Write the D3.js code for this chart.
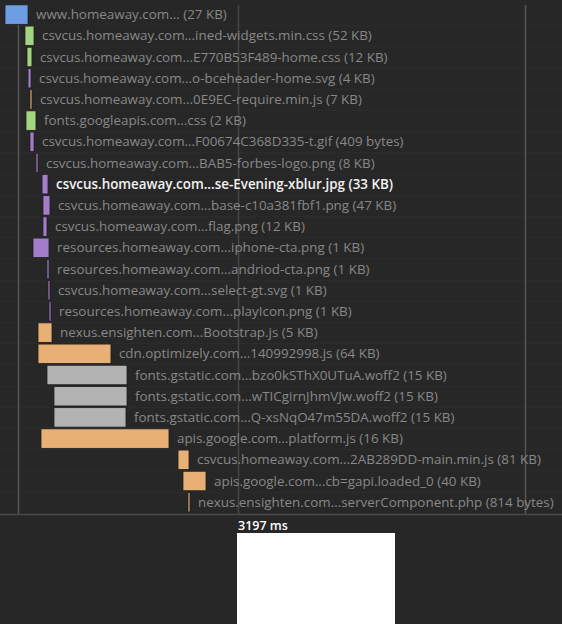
<!DOCTYPE html>
<html>
<head>
<meta charset="utf-8">
<script src="https://cdn.jsdelivr.net/npm/d3@7/dist/d3.min.js"></script>
<style>
  html, body { margin: 0; padding: 0; background: #272727; }
  svg { display: block; }
</style>
</head>
<body>
<svg id="chart" width="562" height="624"></svg>
<script>
// ---- data ----
const labels = [
  "www.homeaway.com... (27 KB)",
  "csvcus.homeaway.com...ined-widgets.min.css (52 KB)",
  "csvcus.homeaway.com...E770B53F489-home.css (12 KB)",
  "csvcus.homeaway.com...o-bceheader-home.svg (4 KB)",
  "csvcus.homeaway.com...0E9EC-require.min.js (7 KB)",
  "fonts.googleapis.com...css (2 KB)",
  "csvcus.homeaway.com...F00674C368D335-t.gif (409 bytes)",
  "csvcus.homeaway.com...BAB5-forbes-logo.png (8 KB)",
  "csvcus.homeaway.com...se-Evening-xblur.jpg (33 KB)",
  "csvcus.homeaway.com...base-c10a381fbf1.png (47 KB)",
  "csvcus.homeaway.com...flag.png (12 KB)",
  "resources.homeaway.com...iphone-cta.png (1 KB)",
  "resources.homeaway.com...andriod-cta.png (1 KB)",
  "csvcus.homeaway.com...select-gt.svg (1 KB)",
  "resources.homeaway.com...playIcon.png (1 KB)",
  "nexus.ensighten.com...Bootstrap.js (5 KB)",
  "cdn.optimizely.com...140992998.js (64 KB)",
  "fonts.gstatic.com...bzo0kSThX0UTuA.woff2 (15 KB)",
  "fonts.gstatic.com...wTICgirnJhmVJw.woff2 (15 KB)",
  "fonts.gstatic.com...Q-xsNqO47m55DA.woff2 (15 KB)",
  "apis.google.com...platform.js (16 KB)",
  "csvcus.homeaway.com...2AB289DD-main.min.js (81 KB)",
  "apis.google.com...cb=gapi.loaded_0 (40 KB)",
  "nexus.ensighten.com...serverComponent.php (814 bytes)"
];
const types = ["html","css","css","image","js","css","image","image","image","image","image","image","image","image","image","js","js","font","font","font","js","js","js","js"];
const startMs = [0, 274, 302, 316, 343, 288, 343, 425, 508, 521, 521, 384, 576, 590, 604, 453, 453, 576, 672, 672, 494, 2374, 2442, 2511];
const endMs   = [316, 398, 370, 357, 370, 425, 398, 453, 590, 617, 576, 604, 604, 617, 631, 645, 1454, 1674, 1674, 1660, 2250, 2525, 2758, 2538];
const highlighted = [8];
const markerMs = [178, 3197, 7135];
const currentMs = 3197;
const currentLabel = "3197 ms";

// ---- drawing ----
const W = 562, H = 624;
const FONT = "'Open Sans', Lato, sans-serif";
const svg = d3.select("#chart");
const color = d3.scaleOrdinal()
  .domain(["html","css","image","js","font"])
  .range(["#6d9de2", "#a2d482", "#a47ccc", "#e8b074", "#b3b3b3"]);

const x = d3.scaleLinear().domain([0, 3197]).range([5, 238]);
const y = d3.scaleBand().domain(d3.range(labels.length)).range([4, 4 + 21.2 * labels.length]).paddingInner(0.08).paddingOuter(0.04);
const axisBottom = 514;

svg.append("rect").attr("width", W).attr("height", H).attr("fill", "#272727");

// row separators
svg.append("g").selectAll("line").data(d3.range(1, labels.length)).join("line")
  .attr("x1", 0).attr("x2", W)
  .attr("y1", i => Math.round(y(i) - y.step() * y.paddingInner() / 2) + 0.5)
  .attr("y2", i => Math.round(y(i) - y.step() * y.paddingInner() / 2) + 0.5)
  .attr("stroke", "#2b2b2b").attr("stroke-width", 1);

// markers
svg.append("g").selectAll("line").data(markerMs).join("line")
  .attr("x1", d => Math.round(x(d)) + 0.5).attr("x2", d => Math.round(x(d)) + 0.5)
  .attr("y1", 5).attr("y2", axisBottom)
  .attr("stroke", (d, i) => i === 1 ? "#464646" : "#555").attr("stroke-width", 1.5);

// bars
svg.append("g").selectAll("rect").data(labels).join("rect")
  .attr("x", (d, i) => x(startMs[i]))
  .attr("y", (d, i) => y(i))
  .attr("width", (d, i) => Math.max(1.5, x(endMs[i]) - x(startMs[i])))
  .attr("height", y.bandwidth())
  .attr("fill", (d, i) => color(types[i]))
  .attr("stroke", "#1f1f1f").attr("stroke-width", 0.8);

// labels
svg.append("g").selectAll("text").data(labels).join("text")
  .attr("x", (d, i) => x(endMs[i]) + 8)
  .attr("y", (d, i) => y(i) + y.bandwidth() / 2)
  .attr("dy", "0.35em")
  .attr("font-family", FONT)
  .attr("font-size", 13.4)
  .attr("font-weight", (d, i) => highlighted.includes(i) ? 600 : 400)
  .attr("fill", (d, i) => highlighted.includes(i) ? "#f2f2f2" : "#888888")
  .text(d => d);

// bottom line
svg.append("line").attr("x1", 0).attr("x2", W).attr("y1", axisBottom + 0.5).attr("y2", axisBottom + 0.5)
  .attr("stroke", "#4a4a4a").attr("stroke-width", 1.5);

// current time label + frame
svg.append("text").attr("x", x(currentMs)).attr("y", 530)
  .attr("font-family", FONT).attr("font-size", 12.5).attr("font-weight", 600)
  .attr("fill", "#ffffff").text(currentLabel);
svg.append("rect").attr("x", x(currentMs) - 1).attr("y", 533).attr("width", 158).attr("height", H - 533)
  .attr("fill", "#ffffff");
</script>
</body>
</html>
